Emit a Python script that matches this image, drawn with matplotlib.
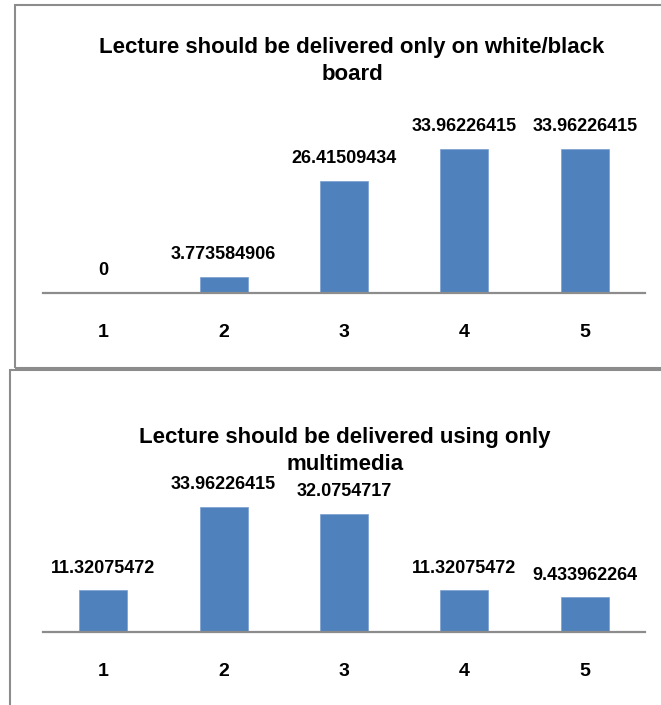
import matplotlib
matplotlib.use("Agg")
import matplotlib.pyplot as plt
from matplotlib.patches import Rectangle

plt.rcParams['font.family'] = ['Liberation Sans', 'DejaVu Sans']
plt.rcParams['font.weight'] = 'bold'

categories = ["1", "2", "3", "4", "5"]
board_values = [0, 3.773584906, 26.41509434, 33.96226415, 33.96226415]
board_labels = ["0", "3.773584906", "26.41509434", "33.96226415", "33.96226415"]
media_values = [11.32075472, 33.96226415, 32.0754717, 11.32075472, 9.433962264]
media_labels = ["11.32075472", "33.96226415", "32.0754717", "11.32075472", "9.433962264"]

title_board = "Lecture should be delivered only on white/black\nboard"
title_media = "Lecture should be delivered using only\nmultimedia"

W, H = 661, 705
fig = plt.figure(figsize=(W / 100, H / 100), dpi=100)

# panel frames
grey = "#8c8c8c"
fig.patches.append(Rectangle((15 / W, 1 - 368 / H), 700 / W, 363 / H, transform=fig.transFigure,
                             fill=False, edgecolor=grey, linewidth=1.5))
fig.patches.append(Rectangle((10 / W, -0.1), 700 / W, 1 - 370 / H + 0.1, transform=fig.transFigure,
                             fill=False, edgecolor=grey, linewidth=1.5))


def panel(axis_y, px_per_unit, values, labels, title, title_x, title_y):
    h = 40 * px_per_unit
    ax = fig.add_axes([43 / W, 1 - axis_y / H, 602 / W, h / H])
    x = range(len(categories))
    ax.bar(x, values, width=0.4, color="#4f81bd", edgecolor="#7a9fd0", linewidth=0.5)
    ax.set_xlim(-0.5, len(categories) - 0.5)
    ax.set_ylim(0, 40)
    for s in ["top", "right", "left"]:
        ax.spines[s].set_visible(False)
    ax.spines["bottom"].set_color(grey)
    ax.spines["bottom"].set_linewidth(1.6)
    ax.set_yticks([])
    ax.set_xticks(list(x))
    ax.set_xticklabels(categories, fontsize=14, fontweight="bold")
    ax.tick_params(axis="x", length=0, pad=22)
    for xi, v, lab in zip(x, values, labels):
        ax.annotate(lab, (xi, v), xytext=(0, 16), textcoords="offset points",
                    ha="center", va="center", fontsize=13, fontweight="bold")
    fig.text(title_x / W, 1 - title_y / H, title, ha="center", va="center",
             fontsize=16, fontweight="bold", linespacing=1.4)
    return ax


panel(293, 4.24, board_values, board_labels, title_board, 352, 61)
panel(632, 3.68, media_values, media_labels, title_media, 345, 451)

fig.savefig("out.png", dpi=100)
